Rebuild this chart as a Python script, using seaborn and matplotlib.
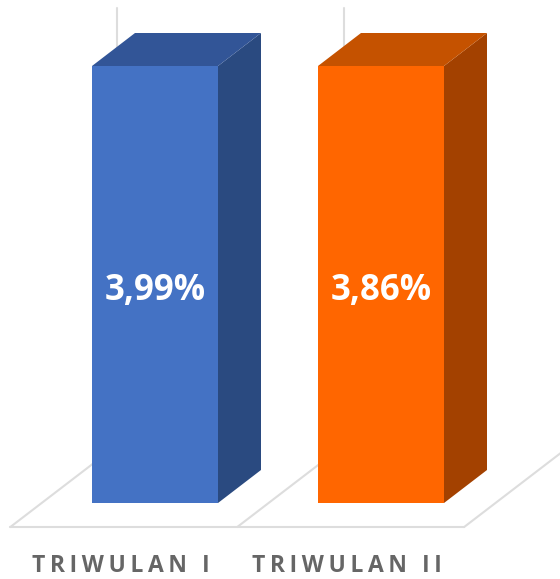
import matplotlib.pyplot as plt
import seaborn as sns
from matplotlib.patches import Polygon

categories = ["TRIWULAN I", "TRIWULAN II"]
# both bars have the same height in the picture, whatever the labels say
bar_heights = [3.99, 3.99]
value_labels = ["3,99%", "3,86%"]

front_colors = ["#4472C4", "#FF6600"]
side_colors = ["#2A4A80", "#A34100"]
top_colors = ["#325597", "#C55200"]
grid_color = "#DDDDDD"

sns.set_theme(style="white")
plt.rcParams['font.family'] = ['Open Sans', 'DejaVu Sans']

fig = plt.figure(figsize=(5.6, 5.79), dpi=100)
ax = fig.add_axes([0, 1 - 535 / 579, 1, 535 / 579])

sns.barplot(x=categories, y=bar_heights, hue=categories, palette=front_colors,
            width=126 / 226, saturation=1, legend=False, ax=ax)

# one x unit is 226 px, one y unit is 437/3.99 px
px_x = 1 / 226
px_y = 3.99 / 437
ax.set_xlim(-155 * px_x, 405 * px_x)
ax.set_ylim(-32 * px_y, 503 * px_y)

depth_x = 43 * px_x
depth_y = 33 * px_y

# floor and back wall lines
floor_y = -24 * px_y
slot_left = -0.64
slot_w = 1.004
wall_x = 107 * px_x
wall_y = 82 * px_y
ax.plot([slot_left, slot_left + 2 * slot_w], [floor_y, floor_y], color=grid_color, lw=1.5, zorder=1, clip_on=False)
for i in range(3):
    x0 = slot_left + i * slot_w
    ax.plot([x0, x0 + wall_x], [floor_y, floor_y + wall_y], color=grid_color, lw=1.5, zorder=1)
    ax.plot([x0 + wall_x, x0 + wall_x], [floor_y + wall_y, 495 * px_y], color=grid_color, lw=1.5, zorder=1)

# 3d faces of the bars
for i, bar in enumerate(ax.patches):
    bar.set_zorder(3)
    bar.set_linewidth(0)
    x0 = bar.get_x()
    x1 = x0 + bar.get_width()
    h = bar.get_height()
    side = [(x1, 0), (x1 + depth_x, depth_y), (x1 + depth_x, h + depth_y), (x1, h)]
    top = [(x0, h), (x0 + depth_x, h + depth_y), (x1 + depth_x, h + depth_y), (x1, h)]
    ax.add_patch(Polygon(side, closed=True, color=side_colors[i], lw=0, zorder=3))
    ax.add_patch(Polygon(top, closed=True, color=top_colors[i], lw=0, zorder=3))
    ax.text(i, h / 2 - 6 * px_y, value_labels[i], color="white", fontsize=25, fontweight="bold",
            ha="center", va="center", zorder=4)

# axis labels sit left of the bars, letters spaced out
spaced = ["\u2009".join(c) for c in categories]
ax.set_xticks([i - 34 * px_x for i in range(len(categories))], spaced)
ax.tick_params(axis="x", length=0, pad=14, labelsize=16.5, labelcolor="#666666")
for t in ax.get_xticklabels():
    t.set_fontweight("bold")
ax.set_yticks([])
ax.set_xlabel("")
ax.set_ylabel("")
sns.despine(ax=ax, left=True, bottom=True, top=True, right=True)

fig.savefig("out.png", dpi=100)
